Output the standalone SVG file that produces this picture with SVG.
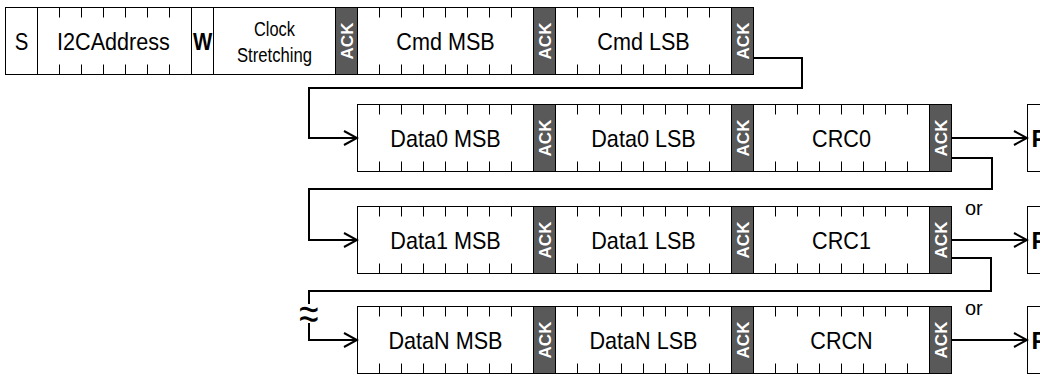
<svg xmlns="http://www.w3.org/2000/svg" xmlns:xlink="http://www.w3.org/1999/xlink" width="1040" height="374" viewBox="0 0 1040 374">
<style>
.box{fill:#fff;stroke:#000;stroke-width:1}
.tick{fill:none;stroke:#000;stroke-width:1}
.ackr{fill:#595959;stroke:#000;stroke-width:1}
.ackt{font-family:"Liberation Sans",Arial,sans-serif;font-weight:bold;font-size:17px;fill:#fff;text-anchor:middle}
.lbl{font-family:"Liberation Sans",Arial,sans-serif;font-size:24px;fill:#000;text-anchor:middle}
.sm{font-family:"Liberation Sans",Arial,sans-serif;font-size:20px;fill:#000;text-anchor:middle}
.or{font-family:"Liberation Sans",Arial,sans-serif;font-size:20px;fill:#000}
.b{font-weight:bold}
.conn{fill:none;stroke:#000;stroke-width:2}
</style>
<defs>
<marker id="arr" markerUnits="userSpaceOnUse" markerWidth="16" markerHeight="18" refX="14" refY="8" orient="auto">
<path d="M1,1 L14,8 L1,15" fill="none" stroke="#000" stroke-width="2"/>
</marker>
<g id="byte">
<rect class="box" x="0" y="0" width="176" height="67"/>
<path class="tick" d="M22,0v10M44,0v10M66,0v10M88,0v10M110,0v10M132,0v10M154,0v10M22,67v-10M44,67v-10M66,67v-10M88,67v-10M110,67v-10M132,67v-10M154,67v-10"/>
</g>
<g id="ack">
<rect class="ackr" x="0" y="0" width="22" height="67"/>
<text class="ackt" transform="translate(11,33.5) rotate(-90)" x="0" y="6.5">ACK</text>
</g>
</defs>

<!-- Row 1 -->
<g id="start" transform="translate(5.5,7.5)">
<rect class="box" width="32" height="67"/>
<text class="lbl" transform="translate(16,42) scale(0.85,1)">S</text>
</g>
<g id="i2c-address" transform="translate(37.5,7.5)">
<rect class="box" width="154" height="67"/>
<path class="tick" d="M22,0v10M44,0v10M66,0v10M88,0v10M110,0v10M132,0v10M22,67v-10M44,67v-10M66,67v-10M88,67v-10M110,67v-10M132,67v-10"/>
<text class="lbl" transform="translate(76,42) scale(0.9,1)">I2CAddress</text>
</g>
<g id="write" transform="translate(191.5,7.5)">
<rect class="box" width="22" height="67"/>
<text class="lbl b" transform="translate(11,42) scale(0.85,1)">W</text>
</g>
<g id="clock-stretching" transform="translate(213.5,7.5)">
<rect class="box" width="122" height="67"/>
<text class="sm" x="61" y="28.5" textLength="41" lengthAdjust="spacingAndGlyphs">Clock</text>
<text class="sm" x="61" y="54.5" textLength="75" lengthAdjust="spacingAndGlyphs">Stretching</text>
</g>
<g id="ack-1a" transform="translate(335.5,7.5)"><use href="#ack" xlink:href="#ack"/></g>
<g id="cmd-msb" transform="translate(357.5,7.5)"><use href="#byte" xlink:href="#byte"/><text class="lbl" transform="translate(88,42) scale(0.9,1)">Cmd MSB</text></g>
<g id="ack-1b" transform="translate(533.5,7.5)"><use href="#ack" xlink:href="#ack"/></g>
<g id="cmd-lsb" transform="translate(555.5,7.5)"><use href="#byte" xlink:href="#byte"/><text class="lbl" transform="translate(88,42) scale(0.9,1)">Cmd LSB</text></g>
<g id="ack-1c" transform="translate(731.5,7.5)"><use href="#ack" xlink:href="#ack"/></g>

<!-- Row 2 -->
<g id="data0-msb" transform="translate(357.5,104.5)"><use href="#byte" xlink:href="#byte"/><text class="lbl" transform="translate(88,42) scale(0.9,1)">Data0 MSB</text></g>
<g id="ack-2a" transform="translate(533.5,104.5)"><use href="#ack" xlink:href="#ack"/></g>
<g id="data0-lsb" transform="translate(555.5,104.5)"><use href="#byte" xlink:href="#byte"/><text class="lbl" transform="translate(88,42) scale(0.9,1)">Data0 LSB</text></g>
<g id="ack-2b" transform="translate(731.5,104.5)"><use href="#ack" xlink:href="#ack"/></g>
<g id="crc0" transform="translate(753.5,104.5)"><use href="#byte" xlink:href="#byte"/><text class="lbl" transform="translate(88,42) scale(0.9,1)">CRC0</text></g>
<g id="ack-2c" transform="translate(929.5,104.5)"><use href="#ack" xlink:href="#ack"/></g>
<g id="stop-0" transform="translate(1027.5,104.5)"><rect class="box" width="40" height="67"/><text class="lbl b" x="4" y="42" style="text-anchor:start">P</text></g>

<!-- Row 3 -->
<g id="data1-msb" transform="translate(357.5,206.5)"><use href="#byte" xlink:href="#byte"/><text class="lbl" transform="translate(88,42) scale(0.9,1)">Data1 MSB</text></g>
<g id="ack-3a" transform="translate(533.5,206.5)"><use href="#ack" xlink:href="#ack"/></g>
<g id="data1-lsb" transform="translate(555.5,206.5)"><use href="#byte" xlink:href="#byte"/><text class="lbl" transform="translate(88,42) scale(0.9,1)">Data1 LSB</text></g>
<g id="ack-3b" transform="translate(731.5,206.5)"><use href="#ack" xlink:href="#ack"/></g>
<g id="crc1" transform="translate(753.5,206.5)"><use href="#byte" xlink:href="#byte"/><text class="lbl" transform="translate(88,42) scale(0.9,1)">CRC1</text></g>
<g id="ack-3c" transform="translate(929.5,206.5)"><use href="#ack" xlink:href="#ack"/></g>
<g id="stop-1" transform="translate(1027.5,206.5)"><rect class="box" width="40" height="67"/><text class="lbl b" x="4" y="42" style="text-anchor:start">P</text></g>

<!-- Row 4 -->
<g id="dataN-msb" transform="translate(357.5,306.5)"><use href="#byte" xlink:href="#byte"/><text class="lbl" transform="translate(88,42) scale(0.9,1)">DataN MSB</text></g>
<g id="ack-4a" transform="translate(533.5,306.5)"><use href="#ack" xlink:href="#ack"/></g>
<g id="dataN-lsb" transform="translate(555.5,306.5)"><use href="#byte" xlink:href="#byte"/><text class="lbl" transform="translate(88,42) scale(0.9,1)">DataN LSB</text></g>
<g id="ack-4b" transform="translate(731.5,306.5)"><use href="#ack" xlink:href="#ack"/></g>
<g id="crcN" transform="translate(753.5,306.5)"><use href="#byte" xlink:href="#byte"/><text class="lbl" transform="translate(88,42) scale(0.9,1)">CRCN</text></g>
<g id="ack-4c" transform="translate(929.5,306.5)"><use href="#ack" xlink:href="#ack"/></g>
<g id="stop-N" transform="translate(1027.5,306.5)"><rect class="box" width="40" height="67"/><text class="lbl b" x="4" y="42" style="text-anchor:start">P</text></g>

<!-- Connectors -->
<g id="connectors">
<path class="conn" d="M753,58 H802 V88 H309 V138 H357" marker-end="url(#arr)"/>
<path class="conn" d="M951,138 H1027" marker-end="url(#arr)"/>
<path class="conn" d="M951,158 H992 V189 H309 V240 H357" marker-end="url(#arr)"/>
<path class="conn" d="M951,240 H1027" marker-end="url(#arr)"/>
<path class="conn" d="M951,258 H991 V291 H309 V304"/>
<path class="conn" d="M309,323 V340 H357" marker-end="url(#arr)"/>
<path class="conn" d="M951,340 H1027" marker-end="url(#arr)"/>
<text class="or" x="965" y="215">or</text>
<text class="or" x="965" y="315">or</text>
<text class="lbl" transform="translate(309,329) scale(1.1,1.4)" style="font-size:32px">≈</text>
</g>
</svg>
